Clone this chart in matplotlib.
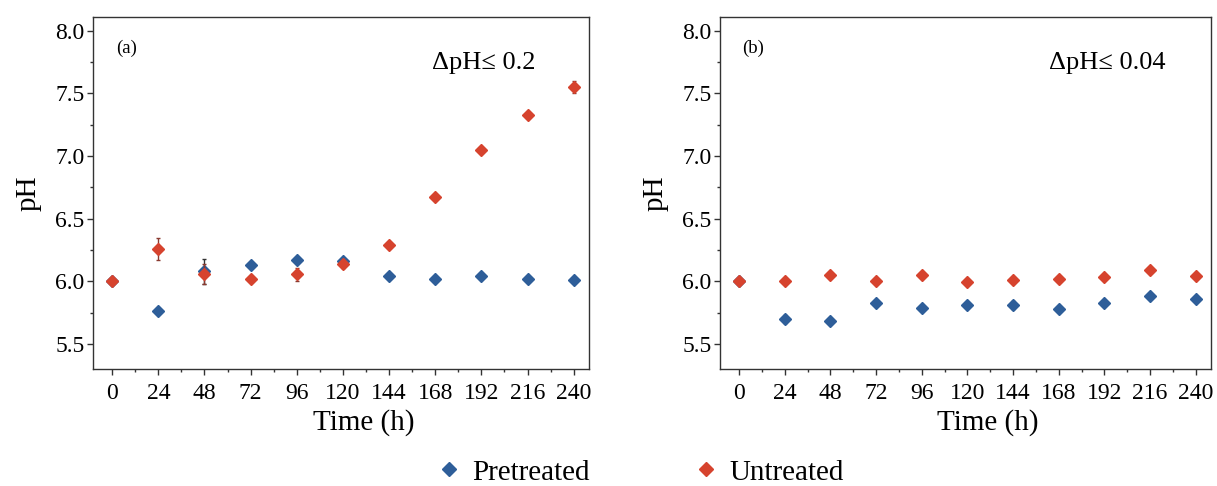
import matplotlib
matplotlib.use("Agg")
import matplotlib.pyplot as plt
from matplotlib.ticker import MultipleLocator
from matplotlib.lines import Line2D

plt.rcParams['font.family'] = ['Liberation Serif', 'DejaVu Serif']

time_h = [0, 24, 48, 72, 96, 120, 144, 168, 192, 216, 240]

# Panel (a)
a_pre = [6.00, 5.765, 6.08, 6.13, 6.17, 6.16, 6.04, 6.02, 6.04, 6.02, 6.01]
a_pre_err = [0.01, 0.01, 0.10, 0.01, 0.02, 0.02, 0.01, 0.01, 0.01, 0.01, 0.01]
a_un = [6.00, 6.26, 6.055, 6.015, 6.055, 6.135, 6.29, 6.67, 7.05, 7.33, 7.55]
a_un_err = [0.01, 0.087, 0.08, 0.01, 0.05, 0.03, 0.01, 0.01, 0.01, 0.01, 0.05]

# Panel (b)
b_pre = [6.00, 5.70, 5.685, 5.83, 5.79, 5.81, 5.81, 5.78, 5.83, 5.88, 5.86]
b_pre_err = [0.01, 0.03, 0.01, 0.01, 0.02, 0.01, 0.03, 0.01, 0.01, 0.01, 0.01]
b_un = [6.00, 6.00, 6.05, 6.00, 6.05, 5.99, 6.01, 6.015, 6.03, 6.09, 6.045]
b_un_err = [0.01, 0.01, 0.02, 0.01, 0.02, 0.01, 0.02, 0.01, 0.01, 0.01, 0.01]

labels = ["Pretreated", "Untreated"]
blue = "#2e5e99"
red = "#d6432e"

fig = plt.figure(figsize=(12.17, 4.86), dpi=100)
ax1 = fig.add_axes([0.0764, 0.241, 0.4076, 0.724])
ax2 = fig.add_axes([0.5916, 0.241, 0.4035, 0.724])

panels = [
    (ax1, a_pre, a_pre_err, a_un, a_un_err, "(a)", "\u0394pH\u2264 0.2"),
    (ax2, b_pre, b_pre_err, b_un, b_un_err, "(b)", "\u0394pH\u2264 0.04"),
]

for ax, pre, pre_e, un, un_e, tag, note in panels:
    ax.errorbar(time_h, pre, yerr=pre_e, fmt='D', color=blue, ms=6.3,
                ecolor='#333333', elinewidth=1, capsize=1.5, zorder=3)
    ax.errorbar(time_h, un, yerr=un_e, fmt='D', color=red, ms=6.3,
                ecolor='#8a3a30', elinewidth=1, capsize=1.5, zorder=4)
    ax.set_xlim(-10, 248)
    ax.set_ylim(5.3, 8.11)
    ax.set_xticks(time_h)
    ax.xaxis.set_minor_locator(MultipleLocator(12))
    ax.yaxis.set_major_locator(MultipleLocator(0.5))
    ax.yaxis.set_minor_locator(MultipleLocator(0.25))
    ax.yaxis.set_major_formatter(matplotlib.ticker.FormatStrFormatter('%.1f'))
    ax.tick_params(which='major', direction='out', length=4, width=1,
                   labelsize=17, color='#333333', pad=2)
    ax.tick_params(axis='x', which='major', pad=6)
    ax.tick_params(which='minor', direction='out', length=2.5, width=1,
                   color='#333333')
    for s in ax.spines.values():
        s.set_color('#333333')
        s.set_linewidth(1)
    ax.set_xlabel("Time (h)", fontsize=21)
    ax.xaxis.set_label_coords(0.545, -0.115)
    ax.set_ylabel("pH", fontsize=21, labelpad=10)
    ax.text(0.068, 0.91, tag, transform=ax.transAxes, fontsize=13.5,
            ha='center', va='center')
    ax.text(0.788, 0.87, note, transform=ax.transAxes, fontsize=19,
            ha='center', va='center')

handles = [Line2D([], [], marker='D', color=blue, ls='none', ms=7),
           Line2D([], [], marker='D', color=red, ls='none', ms=7)]
fig.legend(handles, labels, loc='center', bbox_to_anchor=(0.525, 0.028),
           ncol=2, frameon=False, fontsize=21, columnspacing=3.5,
           handlelength=1.0, handletextpad=0.3)

fig.savefig("out.png", dpi=100)
